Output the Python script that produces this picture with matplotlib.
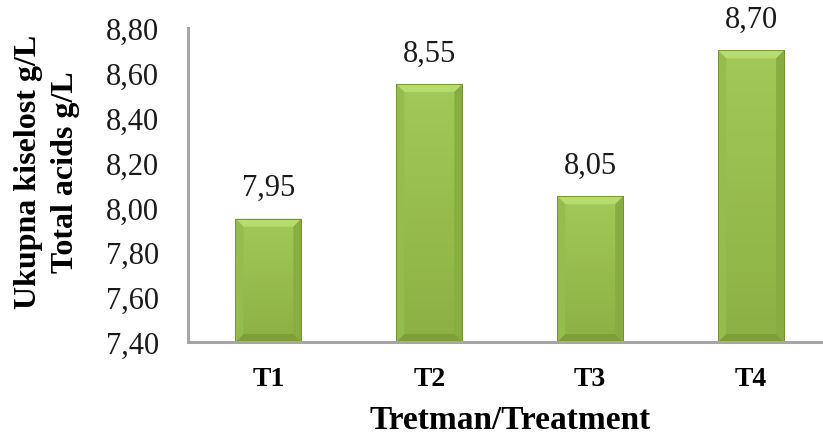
import numpy as np
import matplotlib
matplotlib.use("Agg")
import matplotlib.pyplot as plt
from matplotlib.patches import Polygon

# podaci
tretmani = ['T1', 'T2', 'T3', 'T4']
kiselost = [7.95, 8.55, 8.05, 8.70]
y_ticks = [7.40, 7.60, 7.80, 8.00, 8.20, 8.40, 8.60, 8.80]

plt.rcParams['font.family'] = ['Liberation Serif', 'DejaVu Serif']

fig = plt.figure(figsize=(8.23, 4.39), dpi=100)
ax = fig.add_axes([0.2284, 0.2187, 0.782, 0.7153])

x = np.arange(len(tretmani))
sirina = 0.41
bars = ax.bar(x, np.array(kiselost) - 7.40, bottom=7.40, width=sirina,
              color='#9cc24f', edgecolor='#7f9e3a', linewidth=0.6, zorder=2)

ax.set_xlim(-0.5, 3.5)
ax.set_ylim(7.40, 8.80)

# bevel efekt na stupcima
fig.canvas.draw()
bb = ax.get_window_extent()
px_x = 4.0 / bb.width
px_y = 1.4 / bb.height
d = 8
cm = matplotlib.colors.LinearSegmentedColormap.from_list('g', ['#8db044', '#a2c957'])
for b in bars:
    x0 = b.get_x()
    x1 = x0 + b.get_width()
    y0 = b.get_y()
    y1 = y0 + b.get_height()
    dx = d * px_x
    dy = d * px_y
    # gradijent tijela
    grad = np.linspace(0, 1, 100).reshape(-1, 1)
    im = ax.imshow(grad, extent=(x0, x1, y0, y1), aspect='auto',
                   cmap=cm, origin='lower', zorder=2.1)
    im.set_clip_path(b)
    ax.add_patch(Polygon([(x0, y1), (x1, y1), (x1 - dx, y1 - dy), (x0 + dx, y1 - dy)],
                         closed=True, facecolor='#b7dc6e', edgecolor='none', zorder=2.2))
    ax.add_patch(Polygon([(x0, y0), (x1, y0), (x1 - dx, y0 + dy), (x0 + dx, y0 + dy)],
                         closed=True, facecolor='#7d9e38', edgecolor='none', zorder=2.2))
    ax.add_patch(Polygon([(x0, y0), (x0, y1), (x0 + dx, y1 - dy), (x0 + dx, y0 + dy)],
                         closed=True, facecolor='#96bc4d', edgecolor='none', zorder=2.2))
    ax.add_patch(Polygon([(x1, y0), (x1, y1), (x1 - dx, y1 - dy), (x1 - dx, y0 + dy)],
                         closed=True, facecolor='#88ac42', edgecolor='none', zorder=2.2))
    ax.add_patch(plt.Rectangle((x0, y0), x1 - x0, y1 - y0, fill=False,
                               edgecolor='#6f8d33', linewidth=0.6, zorder=2.3))
    ax.annotate(f"{y1:.2f}".replace('.', ','), (x0 + (x1 - x0) / 2, y1),
                xytext=(0, 12), textcoords='offset points', ha='center', va='bottom',
                fontsize=22, color='#1a1a1a')

ax.set_xticks(x)
ax.set_xticklabels(tretmani, fontsize=20, fontweight='bold')
ax.set_yticks(y_ticks)
ax.set_yticklabels([f"{v:.2f}".replace('.', ',') for v in y_ticks], fontsize=22, color='#1a1a1a')
ax.tick_params(axis='both', length=0)
ax.tick_params(axis='x', pad=17)
ax.tick_params(axis='y', pad=21)

for s in ['top', 'right']:
    ax.spines[s].set_visible(False)
for s in ['left', 'bottom']:
    ax.spines[s].set_color('#a6a6a6')
    ax.spines[s].set_linewidth(2.2)

ax.set_xlabel('Tretman/Treatment', fontsize=24, fontweight='bold', labelpad=10)
fig.text(0.057, 0.608, 'Ukupna kiselost g/L\nTotal acids g/L', rotation=90,
         ha='center', va='center', fontsize=23, fontweight='bold', linespacing=1.35)

fig.savefig("out.png", dpi=100)
